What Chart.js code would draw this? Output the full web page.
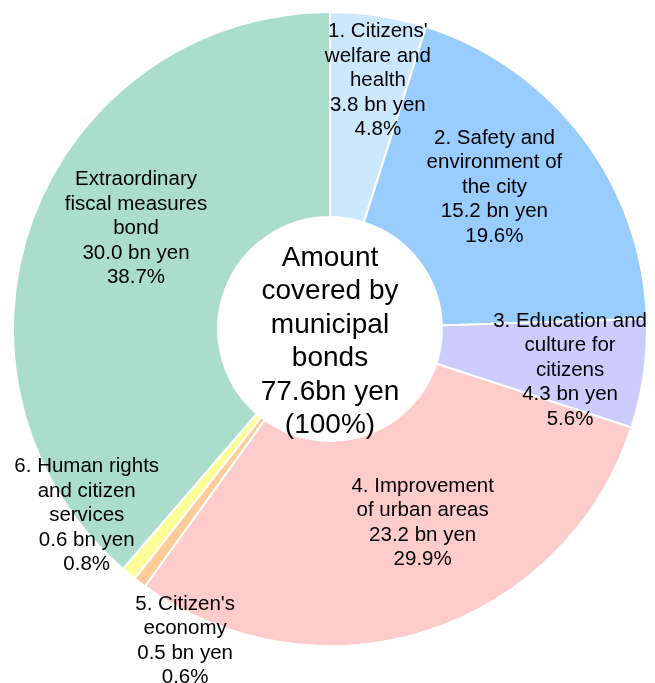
<!DOCTYPE html>
<html>
<head>
<meta charset="utf-8">
<script src="https://cdn.jsdelivr.net/npm/chart.js@4"></script>
<style>
  html, body { margin: 0; padding: 0; background: #fff; }
  #wrap { width: 655px; height: 683px; position: relative; }
</style>
</head>
<body>
<div id="wrap"><canvas id="bondChart"></canvas></div>
<script>
// Municipal bond breakdown (bn yen), clockwise from 12 o'clock
const categories = [
    ["1. Citizens'", "welfare and", "health"],
    ["2. Safety and", "environment of", "the city"],
    ["3. Education and", "culture for", "citizens"],
    ["4. Improvement", "of urban areas"],
    ["5. Citizen's", "economy"],
    ["6. Human rights", "and citizen", "services"],
    ["Extraordinary", "fiscal measures", "bond"]
];
const amounts = [3.8, 15.2, 4.3, 23.2, 0.5, 0.6, 30.0];
const shares = [4.8, 19.6, 5.6, 29.9, 0.6, 0.8, 38.7];
const totalAmount = 77.6;
const sliceColors = ['#cce8ff', '#99ccff', '#ccccff', '#ffcccc', '#ffcc99', '#ffff99', '#aaddcc'];

// label placement: distance from centre (fraction of outer radius) + nudge in px
const labelRadius = [0.80, 0.69, 0.765, 0.667, 1.04, 0.945, 0.69];
const labelShift = [[9, 2], [-10, -10], [0, 7], [27, -7], [53, 48], [-53, -45], [11, -24]];

const FONT = '"Liberation Sans", Arial, Helvetica, sans-serif';

const sliceLabels = {
    id: 'sliceLabels',
    afterDatasetsDraw(chart) {
        const ctx = chart.ctx;
        const arcs = chart.getDatasetMeta(0).data;
        ctx.save();
        ctx.fillStyle = '#000';
        ctx.textAlign = 'center';
        ctx.textBaseline = 'middle';
        ctx.font = '20.5px ' + FONT;
        arcs.forEach((arc, i) => {
            const mid = (arc.startAngle + arc.endAngle) / 2;
            const r = arc.outerRadius * labelRadius[i];
            const x = arc.x + Math.cos(mid) * r + labelShift[i][0];
            const y = arc.y + Math.sin(mid) * r + labelShift[i][1];
            const lines = categories[i].concat([amounts[i].toFixed(1) + ' bn yen', shares[i].toFixed(1) + '%']);
            const lh = 24.5;
            const top = y - (lines.length - 1) * lh / 2;
            lines.forEach((t, k) => ctx.fillText(t, x, top + k * lh));
        });

        // centre caption
        const a = arcs[0];
        const center = ['Amount', 'covered by', 'municipal', 'bonds', totalAmount.toFixed(1) + 'bn yen', '(100%)'];
        ctx.font = '28px ' + FONT;
        const lh2 = 33.5;
        const top2 = a.y + 13 - (center.length - 1) * lh2 / 2;
        center.forEach((t, k) => ctx.fillText(t, a.x, top2 + k * lh2));
        ctx.restore();
    }
};

new Chart(document.getElementById('bondChart'), {
    type: 'doughnut',
    data: {
        labels: categories.map(c => c.join(' ')),
        datasets: [{
            data: amounts,
            backgroundColor: sliceColors,
            borderColor: '#ffffff',
            borderWidth: 2
        }]
    },
    options: {
        responsive: true,
        maintainAspectRatio: false,
        animation: false,
        cutout: '35.3%',
        layout: { padding: { top: 11, left: 11, right: 6, bottom: 36 } },
        plugins: {
            legend: { display: false },
            tooltip: { enabled: false }
        }
    },
    plugins: [sliceLabels]
});
</script>
</body>
</html>
